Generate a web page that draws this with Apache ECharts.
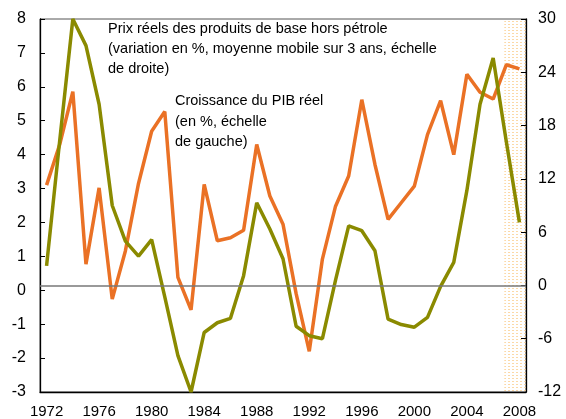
<!DOCTYPE html>
<html>
<head>
<meta charset="utf-8">
<script src="https://cdn.jsdelivr.net/npm/echarts@6/dist/echarts.min.js"></script>
<style>
html,body{margin:0;padding:0;background:#fff;}
#chart{width:566px;height:419px;}
</style>
</head>
<body>
<div id="chart"></div>
<script>
var years = ['1972','1973','1974','1975','1976','1977','1978','1979','1980','1981','1982','1983','1984','1985','1986','1987','1988','1989','1990','1991','1992','1993','1994','1995','1996','1997','1998','1999','2000','2001','2002','2003','2004','2005','2006','2007','2008'];
// Croissance du PIB réel (%, échelle de gauche)
var pibReel = [3.1, 4.3, 5.86, 0.77, 3.02, -0.26, 1.16, 3.15, 4.69, 5.27, 0.38, -0.58, 3.12, 1.46, 1.55, 1.77, 4.3, 2.78, 1.95, -0.1, -1.8, 0.92, 2.48, 3.37, 5.62, 3.71, 2.09, 2.58, 3.07, 4.59, 5.59, 4.0, 6.37, 5.84, 5.64, 6.65, 6.53];
// Prix réels des produits de base hors pétrole (%, moyenne mobile 3 ans, échelle de droite)
var prixReels = [2.2, 16.3, 30.0, 27.0, 20.4, 9.0, 5.0, 3.3, 5.15, -1.3, -7.9, -12.0, -5.3, -4.2, -3.7, 1.1, 9.3, 6.35, 3.0, -4.6, -5.66, -6.0, 0.6, 6.7, 6.16, 3.9, -3.8, -4.4, -4.7, -3.6, -0.1, 2.6, 10.7, 20.4, 25.6, 16.2, 7.1];
var leftTicks = {min: -3, max: 8, interval: 1};
var rightTicks = {min: -12, max: 30, interval: 6};

var chart = echarts.init(document.getElementById('chart'));
var FONT = '"Liberation Sans", Arial, sans-serif';

function makePattern() {
  var c = document.createElement('canvas');
  c.width = 4; c.height = 3;
  var ctx = c.getContext('2d');
  ctx.fillStyle = '#fbd9a8';
  ctx.fillRect(0, 0, 2, 1);
  return c;
}

var option = {
  animation: false,
  backgroundColor: '#fff',
  grid: {left: 40, right: 40, top: 19, bottom: 26, show: true, borderColor: '#555', borderWidth: 1, backgroundColor: 'transparent'},
  xAxis: {
    type: 'category', data: years, boundaryGap: true,
    axisLine: {onZero: false, lineStyle: {color: '#000', width: 1.3}},
    axisTick: {inside: true, length: 5, interval: 0, lineStyle: {color: '#000', width: 1}},
    axisLabel: {interval: 3, color: '#000', fontSize: 15, fontFamily: FONT, margin: 12},
    splitLine: {show: false}
  },
  yAxis: [
    {type: 'value', min: leftTicks.min, max: leftTicks.max, interval: leftTicks.interval, position: 'left',
     axisLine: {show: true, lineStyle: {color: '#000', width: 1.3}},
     axisTick: {show: true, inside: true, length: 5, lineStyle: {color: '#000'}},
     axisLabel: {color: '#000', fontSize: 16, fontFamily: FONT, margin: 14},
     splitLine: {show: false}},
    {type: 'value', min: rightTicks.min, max: rightTicks.max, interval: rightTicks.interval, position: 'right',
     axisLine: {show: true, lineStyle: {color: '#000', width: 1.3}},
     axisTick: {show: true, inside: true, length: 5, lineStyle: {color: '#000'}},
     axisLabel: {color: '#000', fontSize: 16, fontFamily: FONT, margin: 12},
     splitLine: {show: false}}
  ],
  series: [
    {name: 'PIB', type: 'line', yAxisIndex: 0, data: pibReel, symbol: 'none',
     lineStyle: {color: '#ea7125', width: 3.5}, z: 3},
    {name: 'Prix', type: 'line', yAxisIndex: 1, data: prixReels, symbol: 'none',
     lineStyle: {color: '#8a8a00', width: 3.5}, z: 4,
     markLine: {silent: true, symbol: 'none', label: {show: false},
       lineStyle: {color: '#777', width: 1.5, type: 'solid'},
       data: [{yAxis: 0}]}}
  ],
  graphic: [
    {type: 'text', left: 108, top: 19, z: 10,
     style: {text: 'Prix réels des produits de base hors pétrole\n(variation en %, moyenne mobile sur 3 ans, échelle\nde droite)',
       fontSize: 14.5, fontFamily: FONT, fill: '#000', lineHeight: 20}},
    {type: 'text', left: 175, top: 91, z: 10,
     style: {text: 'Croissance du PIB réel\n(en %, échelle\nde gauche)',
       fontSize: 14.5, fontFamily: FONT, fill: '#000', lineHeight: 20.5}}
  ]
};
chart.setOption(option);

var x0 = chart.convertToPixel({xAxisIndex: 0}, '2007') - 2;
var yTop = chart.convertToPixel({yAxisIndex: 0}, leftTicks.max);
var yBot = chart.convertToPixel({yAxisIndex: 0}, leftTicks.min);
var xRight = 566 - 40;
var g = option.graphic.slice();
g.push({type: 'rect', z: 0, silent: true,
  shape: {x: x0, y: yTop, width: xRight - x0, height: yBot - yTop},
  style: {fill: {image: makePattern(), repeat: 'repeat'}}});
chart.setOption({graphic: g});
</script>
</body>
</html>
